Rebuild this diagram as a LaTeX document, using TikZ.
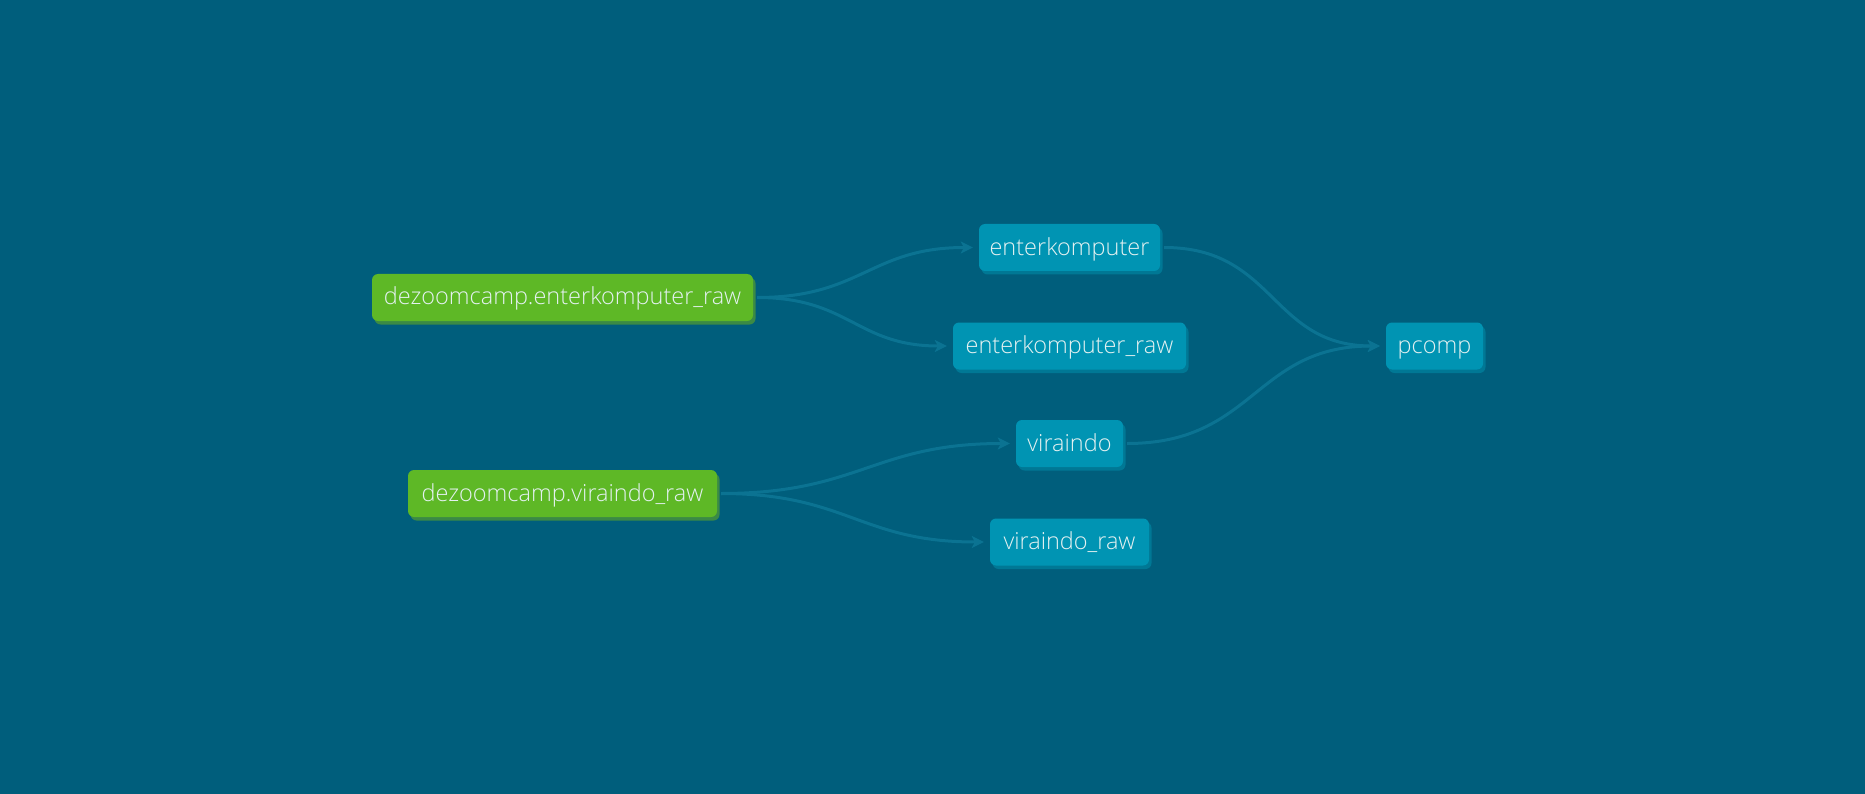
\documentclass[tikz,border=0pt]{standalone}
\usepackage{fontspec}
\setmainfont{Open Sans}[UprightFont={* Light}]
\usetikzlibrary{arrows.meta,shadows}
\definecolor{bg}{HTML}{005E7C}
\definecolor{srcgreen}{HTML}{5EB826}
\definecolor{srcshade}{HTML}{3B8A45}
\definecolor{modelteal}{HTML}{0094B3}
\definecolor{modelshade}{HTML}{007895}
\definecolor{linkcol}{HTML}{0B7392}
\definecolor{labelcol}{HTML}{E4F1F1}
\begin{document}
\begin{tikzpicture}[x=1pt,y=-1pt,
    box/.style={rounded corners=6pt, minimum height=47pt, inner sep=0pt, text height=18pt, text depth=3pt, text=labelcol, font=\fontsize{23.5}{27}\selectfont},
    src/.style={box, fill=srcgreen, general shadow={fill=srcshade, shadow xshift=2.5pt, shadow yshift=-3.5pt}},
    model/.style={box, fill=modelteal, general shadow={fill=modelshade, shadow xshift=2.5pt, shadow yshift=-3.5pt}},
    link/.style={draw=linkcol, line width=3pt, -{Stealth[length=12pt,width=12pt,inset=3pt]}, shorten <=4pt, shorten >=6pt, looseness=1.2}]
    \fill[bg] (0,0) rectangle (1865,794);
    \useasboundingbox (0,0) rectangle (1865,794);
    \draw
    (562.5,297.5)node(dzek)[src, minimum width=381pt]{dezoomcamp.enterkomputer\_raw}
    (562.5,493.5)node(dzvi)[src, minimum width=309pt]{dezoomcamp.viraindo\_raw}
    (1069.5,247.5)node(ek)[model, minimum width=181pt]{enterkomputer}
    (1069.5,346)node(ekraw)[model, minimum width=233pt]{enterkomputer\_raw}
    (1069.5,443.5)node(vi)[model, minimum width=107pt]{viraindo}
    (1069.5,542)node(viraw)[model, minimum width=159pt]{viraindo\_raw}
    (1434.5,346)node(pcomp)[model, minimum width=97pt]{pcomp};
    %
    \draw[link] (dzek.east) to[out=0,in=180] (ek.west);
    \draw[link] (dzek.east) to[out=0,in=180] (ekraw.west);
    \draw[link] (dzvi.east) to[out=0,in=180] (vi.west);
    \draw[link] (dzvi.east) to[out=0,in=180] (viraw.west);
    \draw[link] (ek.east) to[out=0,in=180] (pcomp.west);
    \draw[link] (vi.east) to[out=0,in=180] (pcomp.west);
\end{tikzpicture}
\end{document}
